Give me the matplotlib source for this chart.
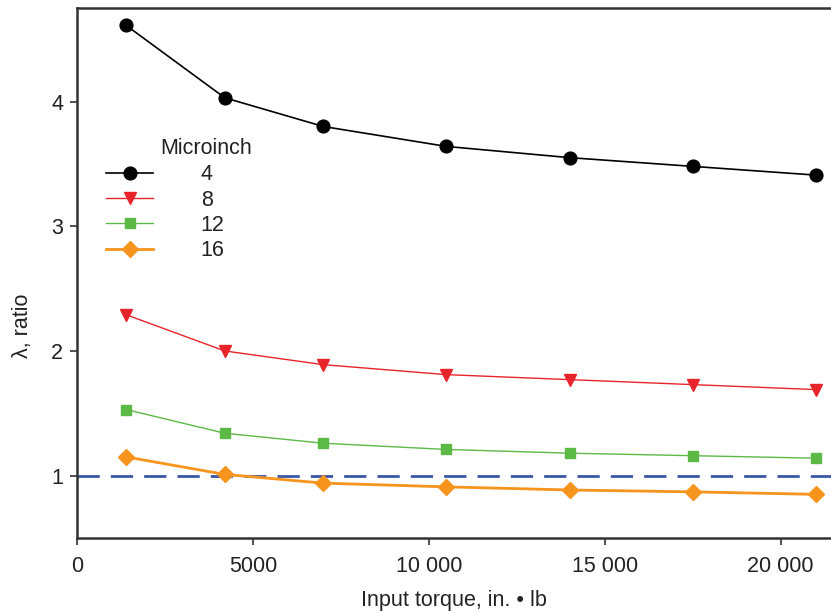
import matplotlib
matplotlib.use("Agg")
import matplotlib.pyplot as plt

plt.rcParams['font.family'] = ['Liberation Sans', 'DejaVu Sans']

torque = [1400, 4200, 7000, 10500, 14000, 17500, 21000]
series_labels = ["4", "8", "12", "16"]
lam_4 = [4.61, 4.03, 3.80, 3.64, 3.55, 3.48, 3.41]
lam_8 = [2.29, 2.00, 1.89, 1.81, 1.77, 1.73, 1.69]
lam_12 = [1.53, 1.34, 1.26, 1.21, 1.18, 1.16, 1.14]
lam_16 = [1.15, 1.01, 0.94, 0.91, 0.885, 0.87, 0.85]
x_ticks = [0, 5000, 10000, 15000, 20000]
x_tick_labels = ["0", "5000", "10 000", "15 000", "20 000"]
y_ticks = [1, 2, 3, 4]
reference = 1.0

FS = 15.5
TXT = '#222222'

fig = plt.figure(figsize=(8.31, 6.13), dpi=100)
ax = fig.add_axes([77/831, 1-538/613, 1-77/831, (538-8)/613])

styles = [
    dict(color='black', marker='o', ms=9.2, lw=1.2),
    dict(color='#e8242b', marker='v', ms=8.8, lw=1.0),
    dict(color='#5cb946', marker='s', ms=7.5, lw=1.0),
    dict(color='#f7941d', marker='D', ms=8.5, lw=2.0),
]
data = [lam_4, lam_8, lam_12, lam_16]

ax.axhline(reference, color='#3b56a6', lw=2, dashes=(8, 4), zorder=1)

handles = []
for vals, st, lab in zip(data, styles, series_labels):
    h, = ax.plot(torque, vals, color=st['color'], lw=st['lw'], marker=st['marker'],
                 ms=st['ms'], mec=st['color'], mfc=st['color'], label=lab, zorder=3)
    handles.append(h)

ax.set_xlim(0, 21430)
ax.set_ylim(0.5, 4.75)
ax.set_xticks(x_ticks)
ax.set_xticklabels(x_tick_labels)
ax.set_yticks(y_ticks)
ax.tick_params(axis='both', labelsize=FS, length=5, width=1.2, color='#333333',
               labelcolor=TXT, direction='out')
ax.tick_params(axis='x', pad=8)
ax.tick_params(axis='y', pad=5)
for s in ['left', 'bottom', 'top']:
    ax.spines[s].set_linewidth(1.8)
    ax.spines[s].set_color('#333333')
ax.spines['right'].set_visible(False)

ax.set_xlabel("Input torque, in. \u2022 lb", fontsize=FS, color=TXT, labelpad=9)
ax.set_ylabel("\u03bb, ratio", fontsize=FS, color=TXT)
ax.yaxis.set_label_coords(-0.058, 0.40)

leg = ax.legend(handles=handles, labels=series_labels, loc='upper left',
                bbox_to_anchor=(0.0385, 0.705), frameon=False, fontsize=FS,
                handlelength=2.2, handletextpad=2.2, labelspacing=0.2,
                borderpad=0, borderaxespad=0)
for t in leg.get_texts():
    t.set_color(TXT)
fig.text(160/831, 1-148/613, "Microinch", fontsize=FS, color=TXT,
         va='center', ha='left')

fig.savefig("out.png", dpi=100)
